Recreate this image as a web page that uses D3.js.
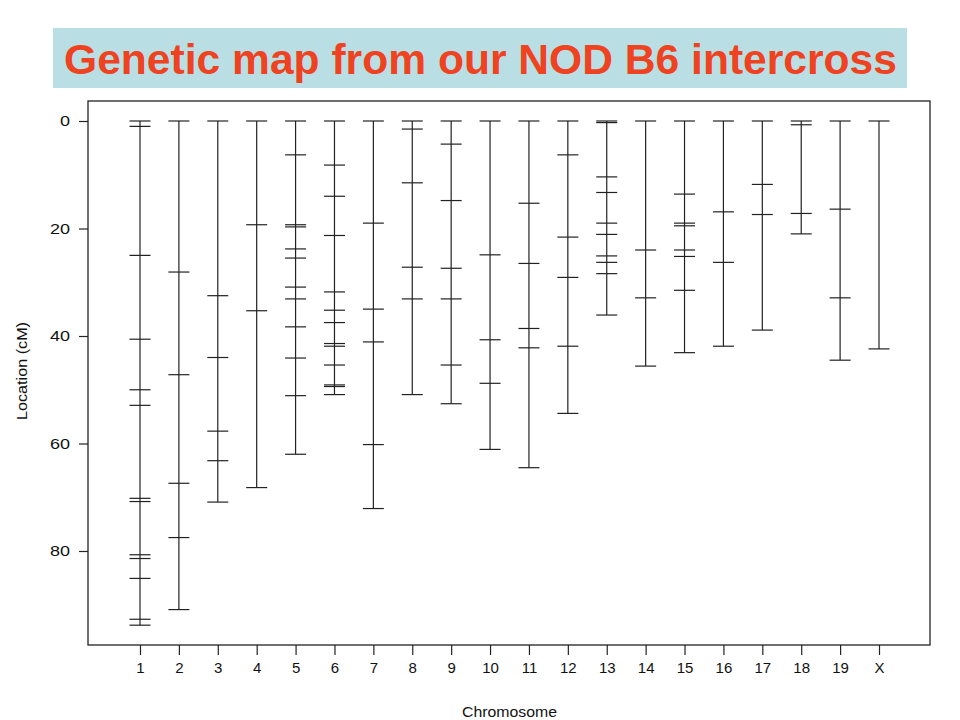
<!DOCTYPE html>
<html><head><meta charset="utf-8">
<script src="https://cdn.jsdelivr.net/npm/d3@7"></script>
<style>body{margin:0;background:#fff}svg{display:block}text{font-family:"Liberation Sans",Arial,sans-serif}</style>
</head><body><svg id="c" width="960" height="720"></svg>
<script>
const chromosomes = ["1","2","3","4","5","6","7","8","9","10","11","12","13","14","15","16","17","18","19","X"];
const chr1 = [0,1.0,25.0,40.6,50.0,52.9,70.2,70.8,80.7,81.4,85.1,92.7,93.8];
const chr2 = [0,28.1,47.2,67.4,77.5,90.9];
const chr3 = [0,32.5,44.0,57.7,63.2,70.9];
const chr4 = [0,19.3,35.3,68.2];
const chr5 = [0,6.3,19.3,19.7,23.8,25.5,30.9,33.1,38.3,44.1,51.1,62.0];
const chr6 = [0,8.2,14.0,21.3,31.8,35.2,37.5,41.4,41.9,45.4,49.1,49.4,50.9];
const chr7 = [0,19.0,35.0,41.1,60.2,72.1];
const chr8 = [0,1.5,11.5,27.2,33.1,50.9];
const chr9 = [0,4.3,14.8,27.4,33.1,45.4,52.6];
const chr10 = [0,24.9,40.7,48.8,61.1];
const chr11 = [0,15.3,26.5,38.6,42.2,64.5];
const chr12 = [0,6.3,21.6,29.1,41.9,54.4];
const chr13 = [0,0.3,10.4,13.3,19.0,21.1,25.1,26.3,28.4,36.1];
const chr14 = [0,24.0,32.9,45.6];
const chr15 = [0,13.6,19.0,19.5,24.0,25.2,31.5,43.1];
const chr16 = [0,16.9,26.3,41.9];
const chr17 = [0,11.8,17.4,38.9];
const chr18 = [0,0.7,17.2,21.0];
const chr19 = [0,16.4,32.9,44.5];
const chrX = [0,42.4];
const markers = [chr1,chr2,chr3,chr4,chr5,chr6,chr7,chr8,chr9,chr10,chr11,chr12,chr13,chr14,chr15,chr16,chr17,chr18,chr19,chrX];
const yTicks = [0,20,40,60,80];
const titleText = "Genetic map from our NOD B6 intercross";
const xTitle = "Chromosome";
const yTitle = "Location (cM)";

const svg = d3.select("#c");
const L = 88, R = 930, T = 101, B = 645;

// title
svg.append("rect").attr("x",53).attr("y",28).attr("width",854).attr("height",60).attr("fill","#b9dfe4");
svg.append("text").attr("x",64).attr("y",74)
  .attr("font-size",42).attr("font-weight","bold").attr("fill","#ef4220")
  .attr("textLength",833).attr("lengthAdjust","spacingAndGlyphs").text(titleText);

const x = d3.scalePoint().domain(chromosomes).range([140,879]);
const y = d3.scaleLinear().domain([0,80]).range([121,551]);

svg.append("rect").attr("x",L).attr("y",T).attr("width",R-L).attr("height",B-T)
  .attr("fill","none").attr("stroke","#222").attr("stroke-width",1.3);

// axes
const gx = svg.append("g").attr("transform",`translate(0,${B})`)
  .call(d3.axisBottom(x).tickSize(10).tickPadding(7));
const gy = svg.append("g").attr("transform",`translate(${L},0)`)
  .call(d3.axisLeft(y).tickValues(yTicks).tickSize(9).tickPadding(9));
[gx,gy].forEach(g=>{
  g.select(".domain").remove();
  g.selectAll("line").attr("stroke","#222").attr("stroke-width",1.2);
  g.selectAll("text").attr("fill","#111").attr("font-family","'Liberation Sans',Arial,sans-serif");
});
gx.selectAll("text").attr("font-size",15);
gy.selectAll("text").attr("font-size",15).each(function(){
  const w = this.getComputedTextLength();
  d3.select(this).attr("textLength",w*1.2).attr("lengthAdjust","spacingAndGlyphs");
});

svg.append("text").attr("x",462).attr("y",717).attr("font-size",15).attr("fill","#111")
  .attr("textLength",95).attr("lengthAdjust","spacingAndGlyphs").text(xTitle);
svg.append("text").attr("transform","translate(27,420) rotate(-90)").attr("font-size",14).attr("fill","#111")
  .attr("textLength",98).attr("lengthAdjust","spacingAndGlyphs").text(yTitle);

// chromosomes
const hw = 10.5;
const g = svg.append("g").attr("stroke","#222").attr("stroke-width",1.2);
markers.forEach((m,i)=>{
  const cx = x(chromosomes[i]);
  g.append("line").attr("x1",cx).attr("x2",cx).attr("y1",y(0)).attr("y2",y(d3.max(m)));
  g.selectAll(null).data(m).enter().append("line")
    .attr("x1",cx-hw).attr("x2",cx+hw).attr("y1",d=>y(d)).attr("y2",d=>y(d));
});
</script></body></html>
